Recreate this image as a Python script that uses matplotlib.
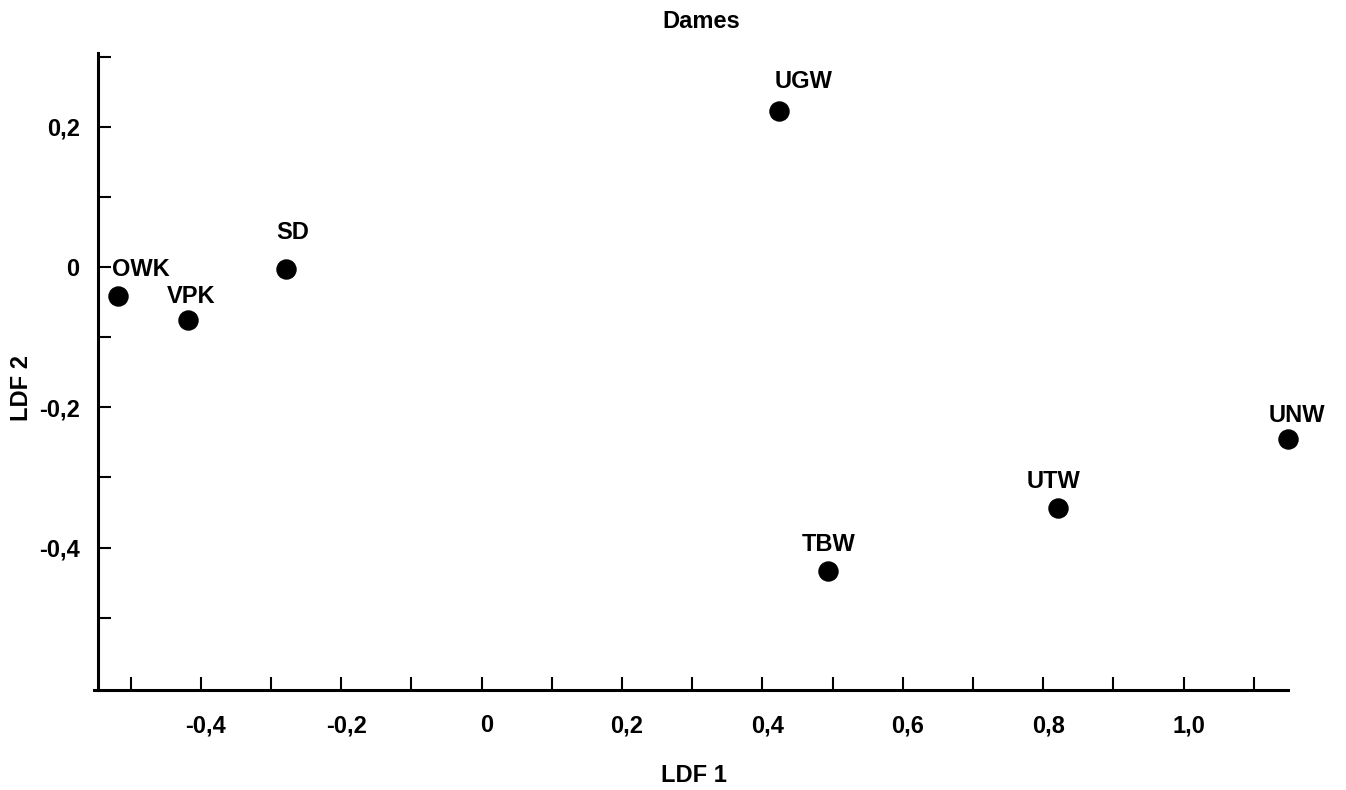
import matplotlib
matplotlib.use('Agg')
import matplotlib.pyplot as plt
import matplotlib.transforms as mtransforms
import numpy as np

plt.rcParams['font.family'] = ['Liberation Sans', 'DejaVu Sans']
plt.rcParams['font.weight'] = 'bold'

# groups and their LDF scores
groups = ['OWK', 'VPK', 'SD', 'UGW', 'TBW', 'UTW', 'UNW']
ldf1 = [-0.518, -0.419, -0.279, 0.424, 0.494, 0.821, 1.149]
ldf2 = [-0.041, -0.076, -0.003, 0.222, -0.434, -0.343, -0.245]

# label offsets (points) relative to each dot
label_off = {'OWK': (16.3, 14.4), 'VPK': (2.4, 12.4), 'SD': (5.0, 21.3),
             'UGW': (17.6, 16.8), 'TBW': (0.2, 14.4), 'UTW': (-3.4, 14.4),
             'UNW': (6.0, 12.2)}

x_ticks = np.round(np.arange(-0.5, 1.11, 0.1), 1)
x_labels = [-0.4, -0.2, 0, 0.2, 0.4, 0.6, 0.8, 1.0]
y_ticks = np.round(np.arange(-0.5, 0.31, 0.1), 1)
y_labels = [-0.4, -0.2, 0, 0.2]

FS = 17


def fmt(v):
    if v == 0:
        return '0'
    return ('%.1f' % v).replace('.', ',')


fig = plt.figure(figsize=(13.46, 7.9), dpi=100)
ax = fig.add_axes([0.0726, 0.1266, 0.8845, 0.8063])

ax.scatter(ldf1, ldf2, s=188, color='black', zorder=3, clip_on=False)
for g, x, y in zip(groups, ldf1, ldf2):
    ax.annotate(g, (x, y), xytext=label_off[g], textcoords='offset points',
                ha='center', va='baseline', fontsize=FS, fontweight='bold')

ax.set_xlim(-0.547, 1.149)
ax.set_ylim(-0.603, 0.305)

for s in ['top', 'right']:
    ax.spines[s].set_visible(False)
for s in ['left', 'bottom']:
    ax.spines[s].set_linewidth(2.2)
ax.spines['bottom'].set_bounds(-0.553, 1.149)

ax.set_xticks(x_ticks, minor=True)
ax.set_xticks(x_labels)
ax.set_xticklabels([fmt(v) for v in x_labels])
ax.set_yticks(y_ticks, minor=True)
ax.set_yticks(y_labels)
ax.set_yticklabels([fmt(v) for v in y_labels])
ax.tick_params(which='both', direction='in', length=9.5, width=1.5, colors='black')
ax.tick_params(axis='x', which='major', pad=17.5, labelsize=FS)
ax.tick_params(axis='y', which='major', pad=13, labelsize=FS)

# x tick labels sit a little right of their ticks in the original
shift = mtransforms.ScaledTranslation(5 / 100, 0, fig.dpi_scale_trans)
for lab in ax.get_xticklabels():
    lab.set_transform(lab.get_transform() + shift)

ax.set_xlabel('LDF 1', fontsize=FS, fontweight='bold')
ax.xaxis.set_label_coords(0.5008, -0.144)
ax.xaxis.label.set_va('baseline')
ax.set_ylabel('LDF 2', fontsize=FS, fontweight='bold')
ax.yaxis.set_label_coords(-0.0644, 0.474)
ax.yaxis.label.set_va('center')

fig.text(0.5213, 1 - 28.3 / 790, 'Dames', ha='center', va='baseline',
         fontsize=FS, fontweight='bold')

fig.savefig('out.png', dpi=100, facecolor='white')
